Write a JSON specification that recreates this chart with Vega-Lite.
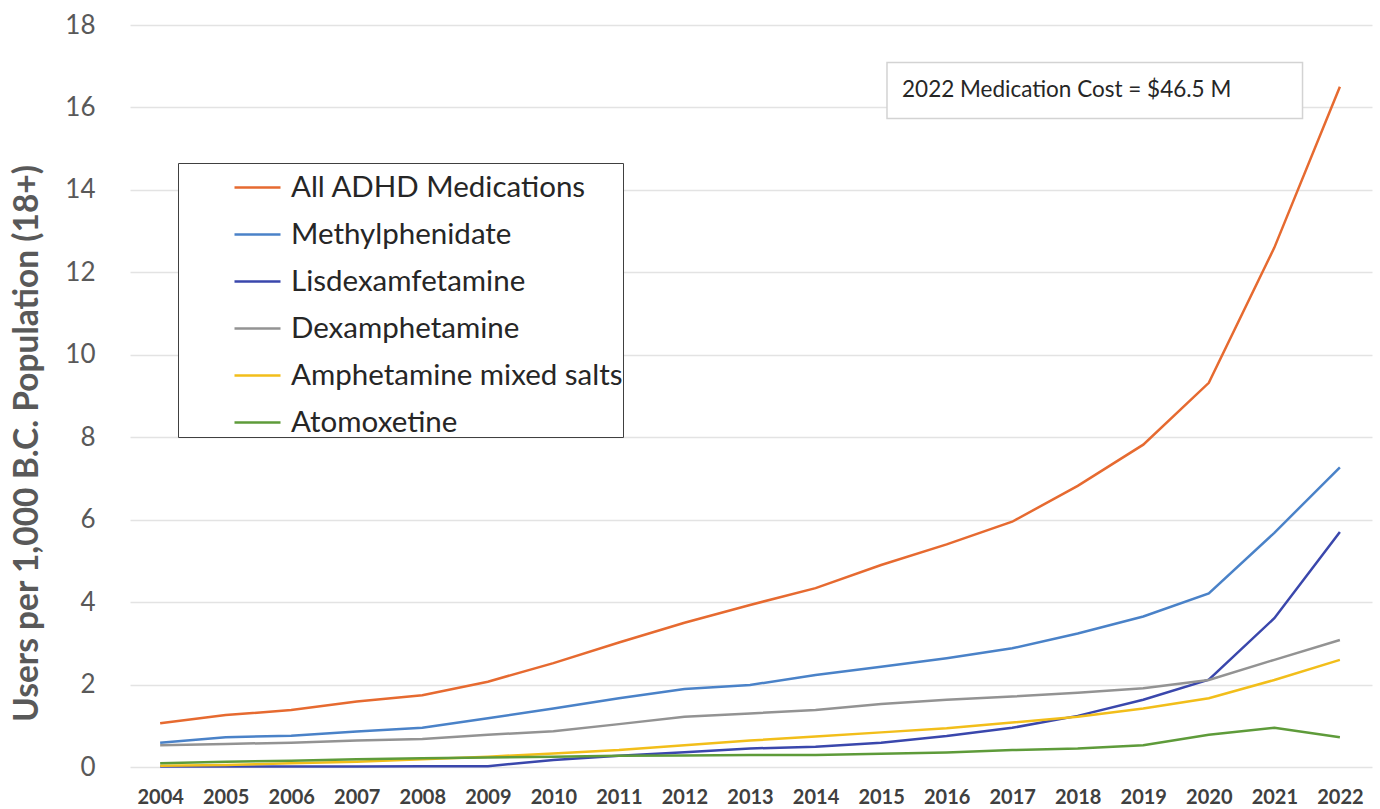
{
  "$schema": "https://vega.github.io/schema/vega-lite/v6.json",
  "width": 1242,
  "height": 742,
  "autosize": {"type": "none"},
  "padding": {"left": 130, "top": 25, "right": 8, "bottom": 42},
  "background": "white",
  "config": {"view": {"stroke": null}, "font": "Lato"},
  "datasets": {
    "series": [
      {"year": 2004, "series": "All ADHD Medications", "value": 1.06},
      {"year": 2005, "series": "All ADHD Medications", "value": 1.26},
      {"year": 2006, "series": "All ADHD Medications", "value": 1.38},
      {"year": 2007, "series": "All ADHD Medications", "value": 1.59},
      {"year": 2008, "series": "All ADHD Medications", "value": 1.74},
      {"year": 2009, "series": "All ADHD Medications", "value": 2.07},
      {"year": 2010, "series": "All ADHD Medications", "value": 2.52},
      {"year": 2011, "series": "All ADHD Medications", "value": 3.02},
      {"year": 2012, "series": "All ADHD Medications", "value": 3.50},
      {"year": 2013, "series": "All ADHD Medications", "value": 3.93},
      {"year": 2014, "series": "All ADHD Medications", "value": 4.34},
      {"year": 2015, "series": "All ADHD Medications", "value": 4.90},
      {"year": 2016, "series": "All ADHD Medications", "value": 5.40},
      {"year": 2017, "series": "All ADHD Medications", "value": 5.95},
      {"year": 2018, "series": "All ADHD Medications", "value": 6.82},
      {"year": 2019, "series": "All ADHD Medications", "value": 7.82},
      {"year": 2020, "series": "All ADHD Medications", "value": 9.32},
      {"year": 2021, "series": "All ADHD Medications", "value": 12.6},
      {"year": 2022, "series": "All ADHD Medications", "value": 16.5},
      {"year": 2004, "series": "Methylphenidate", "value": 0.59},
      {"year": 2005, "series": "Methylphenidate", "value": 0.72},
      {"year": 2006, "series": "Methylphenidate", "value": 0.76},
      {"year": 2007, "series": "Methylphenidate", "value": 0.86},
      {"year": 2008, "series": "Methylphenidate", "value": 0.95},
      {"year": 2009, "series": "Methylphenidate", "value": 1.18},
      {"year": 2010, "series": "Methylphenidate", "value": 1.42},
      {"year": 2011, "series": "Methylphenidate", "value": 1.67},
      {"year": 2012, "series": "Methylphenidate", "value": 1.89},
      {"year": 2013, "series": "Methylphenidate", "value": 1.99},
      {"year": 2014, "series": "Methylphenidate", "value": 2.23},
      {"year": 2015, "series": "Methylphenidate", "value": 2.43},
      {"year": 2016, "series": "Methylphenidate", "value": 2.64},
      {"year": 2017, "series": "Methylphenidate", "value": 2.88},
      {"year": 2018, "series": "Methylphenidate", "value": 3.24},
      {"year": 2019, "series": "Methylphenidate", "value": 3.65},
      {"year": 2020, "series": "Methylphenidate", "value": 4.21},
      {"year": 2021, "series": "Methylphenidate", "value": 5.68},
      {"year": 2022, "series": "Methylphenidate", "value": 7.27},
      {"year": 2004, "series": " Lisdexamfetamine", "value": 0.01},
      {"year": 2005, "series": " Lisdexamfetamine", "value": 0.01},
      {"year": 2006, "series": " Lisdexamfetamine", "value": 0.01},
      {"year": 2007, "series": " Lisdexamfetamine", "value": 0.01},
      {"year": 2008, "series": " Lisdexamfetamine", "value": 0.02},
      {"year": 2009, "series": " Lisdexamfetamine", "value": 0.02},
      {"year": 2010, "series": " Lisdexamfetamine", "value": 0.17},
      {"year": 2011, "series": " Lisdexamfetamine", "value": 0.27},
      {"year": 2012, "series": " Lisdexamfetamine", "value": 0.36},
      {"year": 2013, "series": " Lisdexamfetamine", "value": 0.45},
      {"year": 2014, "series": " Lisdexamfetamine", "value": 0.49},
      {"year": 2015, "series": " Lisdexamfetamine", "value": 0.59},
      {"year": 2016, "series": " Lisdexamfetamine", "value": 0.75},
      {"year": 2017, "series": " Lisdexamfetamine", "value": 0.95},
      {"year": 2018, "series": " Lisdexamfetamine", "value": 1.24},
      {"year": 2019, "series": " Lisdexamfetamine", "value": 1.63},
      {"year": 2020, "series": " Lisdexamfetamine", "value": 2.12},
      {"year": 2021, "series": " Lisdexamfetamine", "value": 3.61},
      {"year": 2022, "series": " Lisdexamfetamine", "value": 5.70},
      {"year": 2004, "series": "Dexamphetamine", "value": 0.53},
      {"year": 2005, "series": "Dexamphetamine", "value": 0.56},
      {"year": 2006, "series": "Dexamphetamine", "value": 0.59},
      {"year": 2007, "series": "Dexamphetamine", "value": 0.64},
      {"year": 2008, "series": "Dexamphetamine", "value": 0.68},
      {"year": 2009, "series": "Dexamphetamine", "value": 0.78},
      {"year": 2010, "series": "Dexamphetamine", "value": 0.87},
      {"year": 2011, "series": "Dexamphetamine", "value": 1.04},
      {"year": 2012, "series": "Dexamphetamine", "value": 1.22},
      {"year": 2013, "series": "Dexamphetamine", "value": 1.30},
      {"year": 2014, "series": "Dexamphetamine", "value": 1.38},
      {"year": 2015, "series": "Dexamphetamine", "value": 1.53},
      {"year": 2016, "series": "Dexamphetamine", "value": 1.63},
      {"year": 2017, "series": "Dexamphetamine", "value": 1.71},
      {"year": 2018, "series": "Dexamphetamine", "value": 1.80},
      {"year": 2019, "series": "Dexamphetamine", "value": 1.91},
      {"year": 2020, "series": "Dexamphetamine", "value": 2.11},
      {"year": 2021, "series": "Dexamphetamine", "value": 2.60},
      {"year": 2022, "series": "Dexamphetamine", "value": 3.08},
      {"year": 2004, "series": "Amphetamine mixed salts", "value": 0.03},
      {"year": 2005, "series": "Amphetamine mixed salts", "value": 0.05},
      {"year": 2006, "series": "Amphetamine mixed salts", "value": 0.09},
      {"year": 2007, "series": "Amphetamine mixed salts", "value": 0.13},
      {"year": 2008, "series": "Amphetamine mixed salts", "value": 0.19},
      {"year": 2009, "series": "Amphetamine mixed salts", "value": 0.25},
      {"year": 2010, "series": "Amphetamine mixed salts", "value": 0.33},
      {"year": 2011, "series": "Amphetamine mixed salts", "value": 0.41},
      {"year": 2012, "series": "Amphetamine mixed salts", "value": 0.53},
      {"year": 2013, "series": "Amphetamine mixed salts", "value": 0.64},
      {"year": 2014, "series": "Amphetamine mixed salts", "value": 0.74},
      {"year": 2015, "series": "Amphetamine mixed salts", "value": 0.84},
      {"year": 2016, "series": "Amphetamine mixed salts", "value": 0.94},
      {"year": 2017, "series": "Amphetamine mixed salts", "value": 1.08},
      {"year": 2018, "series": "Amphetamine mixed salts", "value": 1.22},
      {"year": 2019, "series": "Amphetamine mixed salts", "value": 1.42},
      {"year": 2020, "series": "Amphetamine mixed salts", "value": 1.67},
      {"year": 2021, "series": "Amphetamine mixed salts", "value": 2.11},
      {"year": 2022, "series": "Amphetamine mixed salts", "value": 2.60},
      {"year": 2004, "series": "Atomoxetine", "value": 0.09},
      {"year": 2005, "series": "Atomoxetine", "value": 0.13},
      {"year": 2006, "series": "Atomoxetine", "value": 0.15},
      {"year": 2007, "series": "Atomoxetine", "value": 0.19},
      {"year": 2008, "series": "Atomoxetine", "value": 0.21},
      {"year": 2009, "series": "Atomoxetine", "value": 0.23},
      {"year": 2010, "series": "Atomoxetine", "value": 0.25},
      {"year": 2011, "series": "Atomoxetine", "value": 0.27},
      {"year": 2012, "series": "Atomoxetine", "value": 0.28},
      {"year": 2013, "series": "Atomoxetine", "value": 0.29},
      {"year": 2014, "series": "Atomoxetine", "value": 0.29},
      {"year": 2015, "series": "Atomoxetine", "value": 0.32},
      {"year": 2016, "series": "Atomoxetine", "value": 0.35},
      {"year": 2017, "series": "Atomoxetine", "value": 0.41},
      {"year": 2018, "series": "Atomoxetine", "value": 0.45},
      {"year": 2019, "series": "Atomoxetine", "value": 0.53},
      {"year": 2020, "series": "Atomoxetine", "value": 0.78},
      {"year": 2021, "series": "Atomoxetine", "value": 0.95},
      {"year": 2022, "series": "Atomoxetine", "value": 0.72}
    ],
    "note": [{"label": "2022 Medication Cost = $46.5 M"}]
  },
  "layer": [
    {
      "data": {"name": "series"},
      "mark": {"type": "line", "strokeWidth": 2.5},
      "encoding": {
        "x": {
          "field": "year",
          "type": "quantitative",
          "scale": {"domain": [2003.54, 2022.49], "nice": false, "zero": false},
          "axis": {
            "values": [2004, 2005, 2006, 2007, 2008, 2009, 2010, 2011, 2012, 2013, 2014, 2015, 2016, 2017, 2018, 2019, 2020, 2021, 2022],
            "format": "d",
            "title": null,
            "grid": false,
            "ticks": false,
            "domain": false,
            "labelFont": "Lato",
            "labelFontSize": 20,
            "labelFontWeight": "bold",
            "labelColor": "#404040",
            "labelPadding": 20,
            "labelFlush": false,
            "labelOverlap": false
          }
        },
        "y": {
          "field": "value",
          "type": "quantitative",
          "scale": {"domain": [0, 18], "nice": false},
          "axis": {
            "values": [0, 2, 4, 6, 8, 10, 12, 14, 16, 18],
            "grid": true,
            "gridColor": "#E3E3E3",
            "gridWidth": 1.5,
            "domain": false,
            "ticks": false,
            "labelFont": "Lato",
            "labelFontSize": 26,
            "labelColor": "#595959",
            "labelPadding": 35,
            "title": "Users per 1,000 B.C. Population (18+)",
            "titleFont": "Lato",
            "titleFontSize": 33.5,
            "titleFontWeight": "bold",
            "titleColor": "#595959",
            "titleAngle": -90,
            "titleX": -103,
            "titleY": 418,
            "titleAlign": "center",
            "titleBaseline": "middle"
          }
        },
        "color": {
          "field": "series",
          "type": "nominal",
          "sort": null,
          "scale": {
            "domain": ["All ADHD Medications", "Methylphenidate", " Lisdexamfetamine", "Dexamphetamine", "Amphetamine mixed salts", "Atomoxetine"],
            "range": ["#E66A30", "#4A82C8", "#3A47AC", "#939393", "#F2BE1A", "#5E9B3A"]
          },
          "legend": {
            "title": null,
            "orient": "none",
            "legendX": 48,
            "legendY": 138,
            "padding": 0,
            "strokeColor": "#404040",
            "fillColor": "white",
            "symbolType": "stroke",
            "symbolSize": 2116,
            "symbolStrokeWidth": 2.5,
            "symbolOffset": 55,
            "labelOffset": 9,
            "labelFont": "Lato",
            "labelFontSize": 29.5,
            "labelColor": "#262626",
            "labelLimit": 600,
            "rowPadding": 8
          }
        }
      }
    },
    {
      "data": {"name": "note"},
      "mark": {"type": "rect", "fill": "white", "stroke": "#D3D3D3", "strokeWidth": 1.5},
      "encoding": {
        "x": {"datum": 2015.09, "type": "quantitative"},
        "x2": {"datum": 2021.43},
        "y": {"datum": 17.09, "type": "quantitative"},
        "y2": {"datum": 15.73}
      }
    },
    {
      "data": {"name": "note"},
      "mark": {"type": "text", "align": "left", "baseline": "middle", "font": "Lato", "fontSize": 22.5, "color": "#262626"},
      "encoding": {
        "x": {"datum": 2015.32, "type": "quantitative"},
        "y": {"datum": 16.42, "type": "quantitative"},
        "text": {"field": "label"}
      }
    }
  ]
}
